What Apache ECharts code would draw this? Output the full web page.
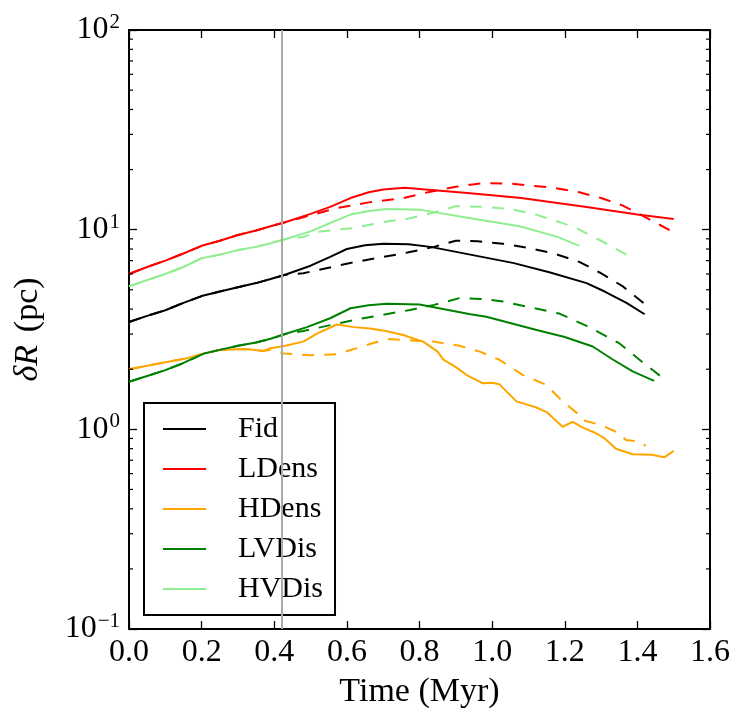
<!DOCTYPE html>
<html>
<head>
<meta charset="utf-8">
<script src="https://cdn.jsdelivr.net/npm/echarts@6/dist/echarts.min.js"></script>
<style>html,body{margin:0;padding:0;background:#fff;}#c{width:748px;height:728px;}</style>
</head>
<body>
<div id="c"></div>
<script>
// ---- data (Time in Myr, deltaR in pc) ----
const seriesNames = ['Fid', 'LDens', 'HDens', 'LVDis', 'HVDis'];
const seriesColors = ['#000000', '#ff0000', '#ffa500', '#008000', '#90ee90'];
const xTicks = [0.0, 0.2, 0.4, 0.6, 0.8, 1.0, 1.2, 1.4, 1.6];
const yTicks = [0.1, 1, 10, 100];
const markTime = 0.425;

const fidT  = [0.00,0.05,0.10,0.15,0.20,0.25,0.30,0.35,0.39,0.43,0.50,0.554,0.60,0.65,0.70,0.77,0.83,0.94,1.06,1.16,1.26,1.31,1.37,1.42];
const fidV  = [3.45,3.70,3.95,4.30,4.65,4.90,5.15,5.40,5.66,5.95,6.60,7.30,8.00,8.35,8.50,8.45,8.20,7.50,6.80,6.10,5.40,4.90,4.30,3.77];
const fidDT = [0.00,0.05,0.10,0.15,0.20,0.25,0.30,0.35,0.39,0.43,0.48,0.55,0.62,0.70,0.77,0.84,0.90,0.96,1.03,1.10,1.17,1.24,1.30,1.36,1.42];
const fidDV = [3.45,3.70,3.95,4.30,4.65,4.90,5.15,5.40,5.66,5.95,6.05,6.45,6.87,7.30,7.70,8.20,8.80,8.75,8.50,8.10,7.60,6.90,6.05,5.20,4.25];

const ldT  = [0.00,0.05,0.10,0.15,0.20,0.25,0.30,0.35,0.39,0.43,0.50,0.554,0.61,0.66,0.70,0.76,0.80,0.94,1.08,1.26,1.40,1.50];
const ldV  = [6.0,6.5,7.0,7.6,8.3,8.8,9.4,9.9,10.4,10.9,12.0,13.0,14.4,15.4,15.9,16.2,16.0,15.2,14.4,13.0,11.9,11.3];
const ldDT = [0.00,0.05,0.10,0.15,0.20,0.25,0.30,0.35,0.39,0.43,0.47,0.57,0.66,0.755,0.83,0.90,0.975,1.05,1.17,1.24,1.30,1.36,1.42,1.50];
const ldDV = [6.0,6.5,7.0,7.6,8.3,8.8,9.4,9.9,10.4,10.9,11.4,12.8,13.7,14.4,15.5,16.4,17.1,17.0,16.2,15.4,14.4,13.2,11.6,9.7];

const hdT  = [0.00,0.05,0.10,0.16,0.20,0.25,0.30,0.33,0.37,0.39,0.43,0.48,0.52,0.573,0.62,0.664,0.71,0.755,0.81,0.85,0.865,0.90,0.93,0.975,1.00,1.02,1.067,1.12,1.15,1.194,1.222,1.25,1.286,1.31,1.341,1.387,1.44,1.474,1.50];
const hdV  = [2.00,2.08,2.17,2.27,2.38,2.50,2.52,2.52,2.47,2.55,2.62,2.75,3.03,3.35,3.25,3.20,3.10,2.97,2.75,2.45,2.24,2.05,1.87,1.70,1.71,1.68,1.38,1.29,1.22,1.03,1.09,1.02,0.956,0.90,0.80,0.75,0.746,0.724,0.78];
const hdDT = [0.00,0.05,0.10,0.16,0.20,0.25,0.30,0.33,0.37,0.39,0.426,0.50,0.573,0.627,0.71,0.79,0.84,0.91,0.966,1.02,1.085,1.149,1.194,1.24,1.25,1.30,1.35,1.368,1.405,1.423];
const hdDV = [2.00,2.08,2.17,2.27,2.38,2.50,2.52,2.52,2.47,2.50,2.40,2.35,2.38,2.55,2.84,2.78,2.75,2.62,2.45,2.23,1.87,1.67,1.38,1.18,1.11,1.05,0.956,0.885,0.87,0.826];

const lvT  = [0.00,0.05,0.10,0.15,0.207,0.25,0.30,0.35,0.39,0.43,0.49,0.554,0.61,0.66,0.71,0.80,0.94,0.984,1.12,1.20,1.277,1.33,1.387,1.446];
const lvV  = [1.73,1.85,1.98,2.15,2.40,2.50,2.62,2.72,2.84,3.00,3.25,3.60,4.04,4.18,4.25,4.22,3.77,3.66,3.15,2.90,2.60,2.25,1.95,1.75];
const lvDT = [0.00,0.05,0.10,0.15,0.207,0.25,0.30,0.35,0.39,0.43,0.48,0.563,0.62,0.70,0.774,0.84,0.91,0.97,1.03,1.10,1.185,1.26,1.35,1.41,1.47];
const lvDV = [1.73,1.85,1.98,2.15,2.40,2.50,2.62,2.72,2.84,3.00,3.11,3.35,3.53,3.75,3.96,4.20,4.54,4.50,4.37,4.10,3.80,3.30,2.70,2.20,1.81];

const hvT  = [0.00,0.05,0.10,0.15,0.20,0.25,0.30,0.35,0.39,0.43,0.50,0.554,0.61,0.66,0.71,0.80,0.94,1.076,1.18,1.24];
const hvV  = [5.2,5.6,6.0,6.5,7.2,7.5,7.9,8.2,8.55,8.95,9.8,10.8,11.9,12.4,12.7,12.6,11.4,10.4,9.2,8.3];
const hvDT = [0.00,0.05,0.10,0.15,0.20,0.25,0.30,0.35,0.39,0.43,0.48,0.527,0.62,0.71,0.774,0.84,0.90,0.984,1.05,1.121,1.18,1.231,1.30,1.37];
const hvDV = [5.2,5.6,6.0,6.5,7.2,7.5,7.9,8.2,8.55,8.95,9.2,9.8,10.2,11.0,11.4,12.2,13.1,13.0,12.7,11.9,11.0,10.2,8.8,7.5];

// ---- build ----
const FONT = 'Liberation Serif';
const solidSets = [[fidT,fidV],[ldT,ldV],[hdT,hdV],[lvT,lvV],[hvT,hvV]];
const dashSets  = [[fidDT,fidDV],[ldDT,ldDV],[hdDT,hdDV],[lvDT,lvDV],[hvDT,hvDV]];
const zip = (t, v) => t.map((x, i) => [x, v[i]]);

// minor log ticks (2..9 x decade)
const minorTicks = [];
for (let k = 0; k < yTicks.length - 1; k++) {
  for (let m = 2; m <= 9; m++) minorTicks.push(yTicks[k] * m);
}

const series = [];
seriesNames.forEach((n, i) => {
  series.push({
    name: n + ' (dashed)', type: 'line', data: zip(dashSets[i][0], dashSets[i][1]),
    symbol: 'none', smooth: false, silent: true,
    lineStyle: { color: seriesColors[i], width: 2, type: [12, 10] }, z: 3
  });
});
seriesNames.forEach((n, i) => {
  series.push({
    name: n, type: 'line', data: zip(solidSets[i][0], solidSets[i][1]),
    symbol: 'none', smooth: false, silent: true,
    itemStyle: { color: seriesColors[i] },
    lineStyle: { color: seriesColors[i], width: 2, type: 'solid' }, z: 3
  });
});
// vertical reference line
series.push({
  name: 'ref', type: 'line', data: [], silent: true,
  markLine: {
    silent: true, symbol: 'none', label: { show: false },
    lineStyle: { color: '#aaaaaa', width: 2, type: 'solid' },
    data: [{ xAxis: markTime }]
  }, z: 1
});
// minor ticks on log axis (left and right)
series.push({
  name: 'minor', type: 'custom', silent: true, z: 5,
  data: minorTicks.map(v => [xTicks[0], v]),
  encode: { x: 0, y: 1 },
  renderItem: function (params, api) {
    const v = api.value(1);
    const l = api.coord([xTicks[0], v]);
    const r = api.coord([xTicks[xTicks.length - 1], v]);
    return {
      type: 'group', children: [
        { type: 'line', shape: { x1: l[0], y1: l[1], x2: l[0] + 4, y2: l[1] }, style: { stroke: '#000', lineWidth: 1.2 } },
        { type: 'line', shape: { x1: r[0] - 4, y1: r[1], x2: r[0], y2: r[1] }, style: { stroke: '#000', lineWidth: 1.2 } }
      ]
    };
  }
});

const axisLineStyle = { color: '#000', width: 2 };
const tickStyle = { color: '#000', width: 1.3 };
const expLabel = v => {
  const e = Math.round(Math.log10(v));
  return '{b|10}{s|' + (e < 0 ? '\u2212' + (-e) : e) + '}';
};

const option = {
  animation: false,
  backgroundColor: '#fff',
  grid: { left: 129, right: 38, top: 30, bottom: 99, containLabel: false },
  legend: {
    data: seriesNames, orient: 'vertical', left: 144, top: 403,
    backgroundColor: '#fff', borderColor: '#000', borderWidth: 2, borderRadius: 0,
    padding: [11, 12, 11, 19], itemWidth: 43, itemHeight: 2, itemGap: 10,
    icon: 'rect', selectedMode: false,
    textStyle: { fontFamily: FONT, fontSize: 30, color: '#000', lineHeight: 30, padding: [0, 0, 0, 27] }
  },
  xAxis: [{
    type: 'value', min: xTicks[0], max: xTicks[xTicks.length - 1], interval: 0.2, position: 'bottom',
    axisLine: { show: true, onZero: false, lineStyle: axisLineStyle },
    axisTick: { show: true, inside: true, length: 8, lineStyle: tickStyle },
    axisLabel: { formatter: v => v.toFixed(1), fontFamily: FONT, fontSize: 32, color: '#000', margin: 8 },
    splitLine: { show: false },
    name: 'Time (Myr)', nameLocation: 'middle', nameGap: 46,
    nameTextStyle: { fontFamily: FONT, fontSize: 34, color: '#000' }
  }, {
    type: 'value', min: xTicks[0], max: xTicks[xTicks.length - 1], interval: 0.2, position: 'top',
    axisLine: { show: true, onZero: false, lineStyle: axisLineStyle },
    axisTick: { show: true, inside: true, length: 8, lineStyle: tickStyle },
    axisLabel: { show: false }, splitLine: { show: false }
  }],
  yAxis: [{
    type: 'log', logBase: 10, min: yTicks[0], max: yTicks[yTicks.length - 1], splitNumber: 3, position: 'left',
    axisLine: { show: true, onZero: false, lineStyle: axisLineStyle },
    axisTick: { show: true, inside: true, length: 8, lineStyle: tickStyle },
    axisLabel: {
      formatter: expLabel, margin: 9, color: '#000',
      rich: {
        b: { fontFamily: FONT, fontSize: 32, color: '#000' },
        s: { fontFamily: FONT, fontSize: 21, color: '#000', padding: [0, 0, 15, 1] }
      }
    },
    splitLine: { show: false },
    name: '{i|\u03b4R}{n|\u2009(pc)}', nameLocation: 'middle', nameGap: 84, nameRotate: 90,
    nameTextStyle: {
      rich: {
        i: { fontFamily: FONT, fontSize: 34, fontStyle: 'italic', color: '#000' },
        n: { fontFamily: FONT, fontSize: 34, color: '#000', padding: [0, 0, 0, 6] }
      }
    }
  }, {
    type: 'log', logBase: 10, min: yTicks[0], max: yTicks[yTicks.length - 1], splitNumber: 3, position: 'right',
    axisLine: { show: true, onZero: false, lineStyle: axisLineStyle },
    axisTick: { show: true, inside: true, length: 8, lineStyle: tickStyle },
    axisLabel: { show: false }, splitLine: { show: false }
  }],
  series: series
};

const chart = echarts.init(document.getElementById('c'), null, { renderer: 'canvas' });
chart.setOption(option);
</script>
</body>
</html>
